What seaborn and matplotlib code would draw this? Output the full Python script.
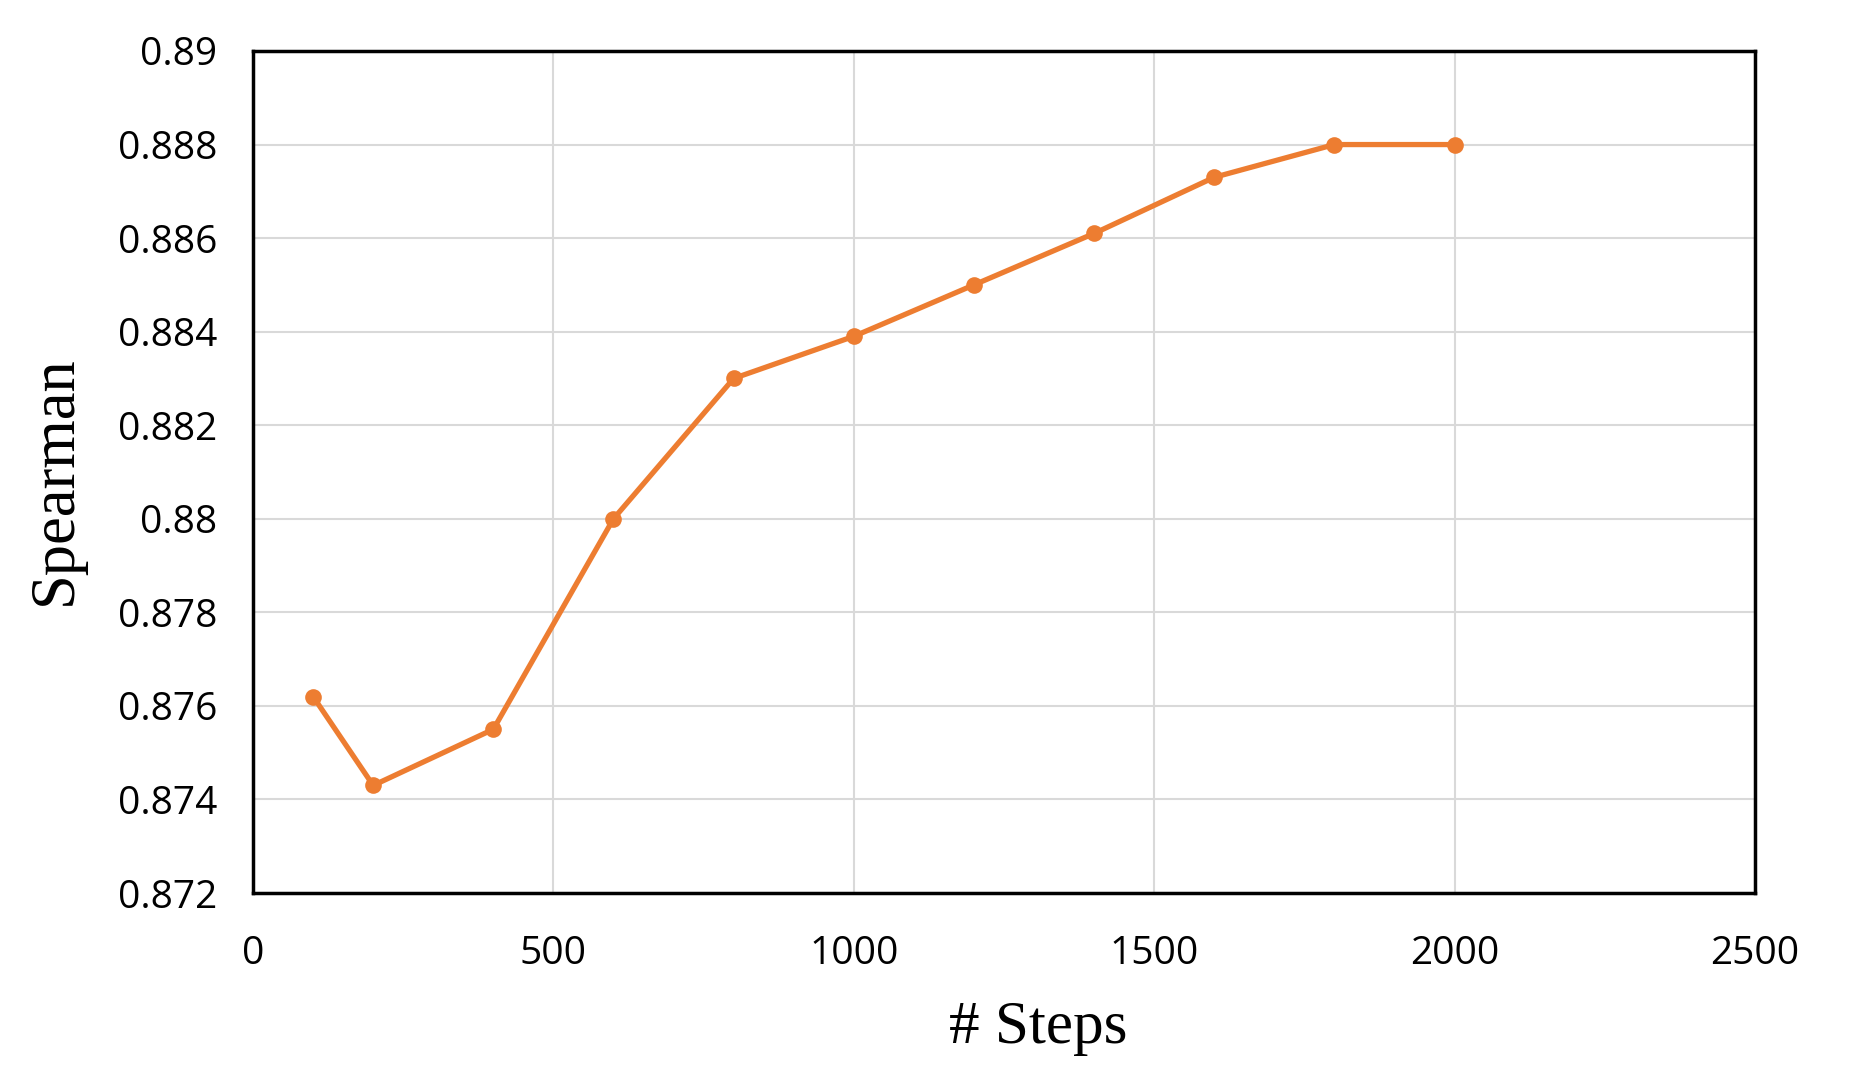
import numpy as np
import pandas as pd
import seaborn as sns
import matplotlib.pyplot as plt

# Data
steps = [100, 200, 400, 600, 800, 1000, 1200, 1400, 1600, 1800, 2000]
spearman = [0.8762, 0.8743, 0.8755, 0.8800, 0.8830, 0.8839, 0.8850, 0.8861, 0.8873, 0.8880, 0.8880]
x_ticks = [0, 500, 1000, 1500, 2000, 2500]
y_ticks = [0.872, 0.874, 0.876, 0.878, 0.880, 0.882, 0.884, 0.886, 0.888, 0.890]
y_tick_labels = ["0.872", "0.874", "0.876", "0.878", "0.88", "0.882", "0.884", "0.886", "0.888", "0.89"]

df = pd.DataFrame({"steps": steps, "spearman": spearman})

sns.set_style("white")
plt.rcParams["font.family"] = ["Open Sans", "DejaVu Sans"]
plt.rcParams["text.color"] = "black"
plt.rcParams["xtick.color"] = "black"
plt.rcParams["ytick.color"] = "black"
plt.rcParams["axes.labelcolor"] = "black"

fig, ax = plt.subplots(figsize=(18.62, 10.78), dpi=100)
fig.subplots_adjust(left=0.1359, right=0.9425, top=0.9527, bottom=0.1716)

sns.lineplot(data=df, x="steps", y="spearman", ax=ax, color="#ED7D31",
             linewidth=3.8, marker="o", markersize=12, markeredgewidth=0, zorder=3)

ax.set_xlim(0, 2500)
ax.set_ylim(0.872, 0.890)
ax.set_xticks(x_ticks)
ax.set_yticks(y_ticks)
ax.set_yticklabels(y_tick_labels)
ax.tick_params(axis="both", length=0, labelsize=28)
ax.tick_params(axis="x", pad=30)
ax.tick_params(axis="y", pad=26)

ax.grid(True, color="#d9d9d9", linewidth=1.5)
ax.set_axisbelow(True)
for side in ["top", "right", "left", "bottom"]:
    ax.spines[side].set_visible(True)
    ax.spines[side].set_color("black")
    ax.spines[side].set_linewidth(2.5)

ax.set_xlabel("# Steps", family="Liberation Serif", fontsize=44)
ax.set_ylabel("Spearman", family="Liberation Serif", fontsize=45)
ax.xaxis.set_label_coords(0.523, -0.128)
ax.yaxis.set_label_coords(-0.112, 0.49)

fig.savefig("out.png", dpi=100)
